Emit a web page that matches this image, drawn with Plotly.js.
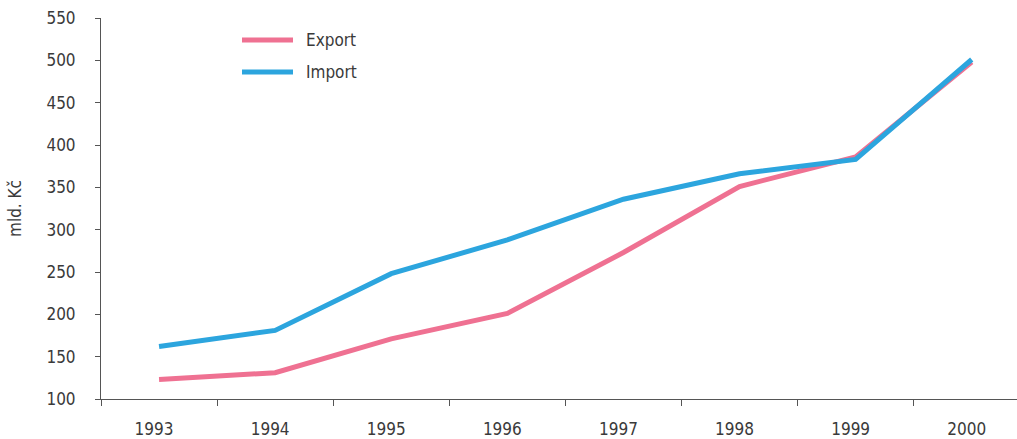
<!DOCTYPE html>
<html>
<head>
<meta charset="utf-8">
<script src="https://cdn.plot.ly/plotly-3.0.1.min.js"></script>
<style>
  html, body { margin: 0; padding: 0; background: #fff; }
  #chart { width: 1017px; height: 439px; }
</style>
</head>
<body>
<div id="chart"></div>
<script>
// Foreign trade of the Czech Republic, 1993–2000 (bn CZK)
const years = ['1993', '1994', '1995', '1996', '1997', '1998', '1999', '2000'];
const exportValues = [123, 131, 171, 201, 273, 351, 386, 498];
const importValues = [162, 181, 248, 288, 336, 366, 383, 501];
const seriesNames = ['Export', 'Import'];
const seriesColors = ['#EF7192', '#2CA5DE'];
const yTicks = [100, 150, 200, 250, 300, 350, 400, 450, 500, 550];
const yTitle = 'mld. Kč';

const FONT = '"Liberation Sans Narrow", "DejaVu Sans Condensed", "Open Sans", sans-serif';
const TEXT = '#3a3a3a';
const FS = 17;

const traces = [exportValues, importValues].map((vals, i) => ({
  type: 'scatter',
  mode: 'lines',
  name: seriesNames[i],
  x: years,
  y: vals,
  line: { color: seriesColors[i], width: 5 },
  hoverinfo: 'x+y+name'
}));

// Custom legend: long line samples with labels to their right
const legendShapes = seriesNames.map((n, i) => ({
  type: 'line', xref: 'paper', yref: 'paper',
  x0: (242 - 101) / 916, x1: (293 - 101) / 916,
  y0: (399 - (40 + 32 * i)) / 381, y1: (399 - (40 + 32 * i)) / 381,
  line: { color: seriesColors[i], width: 5 }
}));
const legendLabels = seriesNames.map((n, i) => ({
  xref: 'paper', yref: 'paper',
  x: (304 - 101) / 916, y: (399 - (40 + 32 * i)) / 381,
  xanchor: 'left', yanchor: 'middle',
  text: n, showarrow: false,
  font: { family: FONT, size: FS, color: TEXT }
}));

const layout = {
  width: 1017, height: 439,
  margin: { l: 101, r: 0, t: 18, b: 40 },
  paper_bgcolor: '#fff', plot_bgcolor: '#fff',
  showlegend: false,
  font: { family: FONT, size: FS, color: TEXT },
  xaxis: {
    type: 'category',
    range: [-0.5, 7.39],
    tickson: 'boundaries',
    ticks: 'outside', ticklen: 6, tickcolor: '#555',
    showline: true, linecolor: '#555', linewidth: 1,
    showgrid: false, zeroline: false,
    ticklabelstandoff: 15,
    ticklabelshift: -5,
    tickfont: { family: FONT, size: FS, color: TEXT },
    fixedrange: true
  },
  yaxis: {
    range: [100, 550],
    tickvals: yTicks,
    ticks: 'outside', ticklen: 5, tickcolor: '#555',
    showline: true, linecolor: '#555', linewidth: 1,
    showgrid: false, zeroline: false,
    ticklabelstandoff: 16,
    tickfont: { family: FONT, size: FS, color: TEXT },
    title: { text: yTitle, font: { family: FONT, size: FS, color: TEXT }, standoff: 20 },
    fixedrange: true
  },
  shapes: legendShapes,
  annotations: legendLabels
};

Plotly.newPlot('chart', traces, layout, { displayModeBar: false, staticPlot: true });
</script>
</body>
</html>
